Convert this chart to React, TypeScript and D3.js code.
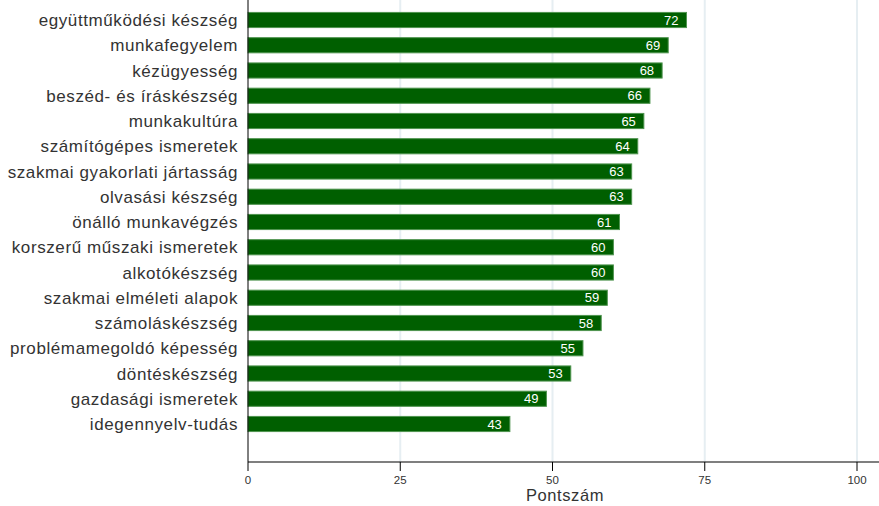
import React from "react";
import * as d3 from "d3";

const categories = [
  "együttműködési készség",
  "munkafegyelem",
  "kézügyesség",
  "beszéd- és íráskészség",
  "munkakultúra",
  "számítógépes ismeretek",
  "szakmai gyakorlati jártasság",
  "olvasási készség",
  "önálló munkavégzés",
  "korszerű műszaki ismeretek",
  "alkotókészség",
  "szakmai elméleti alapok",
  "számoláskészség",
  "problémamegoldó képesség",
  "döntéskészség",
  "gazdasági ismeretek",
  "idegennyelv-tudás",
];
const values = [72, 69, 68, 66, 65, 64, 63, 63, 61, 60, 60, 59, 58, 55, 53, 49, 43];
const xTicks = [0, 25, 50, 75, 100];
const xLabel = "Pontszám";

const W = 879;
const H = 506;
const x0 = 248;
const x1 = 857;
const axisY = 462;

export default function App() {
  const x = d3.scaleLinear().domain([0, 100]).range([x0, x1]);
  const y = d3
    .scaleBand<string>()
    .domain(categories)
    .range([4.85, 439.15])
    .paddingInner(0.4)
    .paddingOuter(0.3);
  const font = "'Liberation Sans', Arial, sans-serif";
  return (
    <svg
      width={W}
      height={H}
      style={{ position: "absolute", left: 0, top: 0, background: "#fff" }}
      fontFamily={font}
    >
      <rect x={0} y={0} width={W} height={H} fill="#fff" />
      {xTicks.slice(1).map((t) => (
        <line key={"g" + t} x1={x(t)} x2={x(t)} y1={0} y2={axisY} stroke="#e6eef2" strokeWidth={2} />
      ))}
      {categories.map((c, i) => {
        const yy = y(c)!;
        const bw = y.bandwidth();
        return (
          <g key={c}>
            <rect
              x={x(0)}
              y={yy}
              width={x(values[i]) - x(0)}
              height={bw}
              fill="#005f00"
              stroke="#4f944f"
              strokeWidth={1}
            />
            <text
              x={x(values[i]) - 8}
              y={yy + bw / 2}
              dy="0.36em"
              textAnchor="end"
              fill="#fff"
              fontSize={13}
            >
              {values[i]}
            </text>
            <text
              x={238}
              y={yy + bw / 2}
              dy="0.36em"
              textAnchor="end"
              fill="#333"
              fontSize={17}
              letterSpacing={0.6}
            >
              {c}
            </text>
          </g>
        );
      })}
      <line x1={x0} x2={x0} y1={0} y2={axisY} stroke="#000" strokeWidth={1} />
      <line x1={x0} x2={W} y1={axisY} y2={axisY} stroke="#000" strokeWidth={1.2} />
      {xTicks.map((t) => (
        <g key={"t" + t}>
          <line x1={x(t)} x2={x(t)} y1={axisY} y2={axisY + 9} stroke="#000" strokeWidth={1} />
          <text x={x(t)} y={484} textAnchor="middle" fontSize={11.5} fill="#333">
            {t}
          </text>
        </g>
      ))}
      <text x={565} y={501} textAnchor="middle" fontSize={16.5} fill="#333" letterSpacing={0.6}>
        {xLabel}
      </text>
    </svg>
  );
}
